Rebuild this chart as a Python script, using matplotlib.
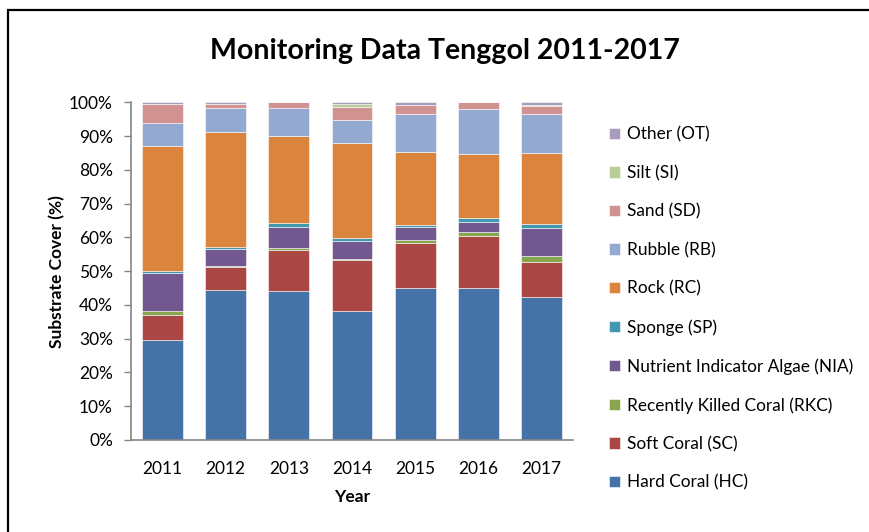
import numpy as np
import matplotlib.pyplot as plt
from matplotlib.patches import Rectangle

plt.rcParams['font.family'] = ['Lato', 'DejaVu Sans']

years = ['2011', '2012', '2013', '2014', '2015', '2016', '2017']

# substrate cover per year (%), bottom to top of the stack
hard_coral = [29.6, 44.3, 44.1, 38.4, 45.1, 44.9, 42.3]
soft_coral = [7.5, 7.0, 12.2, 15.1, 13.3, 15.4, 10.5]
recently_killed = [1.1, 0.3, 0.5, 0.2, 0.7, 1.3, 1.6]
nutrient_algae = [11.2, 5.0, 6.4, 5.2, 3.9, 3.0, 8.3]
sponge = [0.8, 0.6, 1.0, 1.0, 0.7, 1.1, 1.2]
rock = [36.8, 34.1, 25.8, 28.3, 21.6, 19.1, 21.2]
rubble = [7.1, 6.9, 8.4, 6.7, 11.1, 13.1, 11.3]
sand = [5.5, 1.3, 1.6, 4.0, 2.8, 2.1, 2.6]
silt = [0.0, 0.0, 0.0, 0.8, 0.0, 0.0, 0.3]
other = [0.5, 0.5, 0.0, 0.5, 0.8, 0.0, 0.7]

labels = ['Hard Coral (HC)', 'Soft Coral (SC)', 'Recently Killed Coral (RKC)',
          'Nutrient Indicator Algae (NIA)', 'Sponge (SP)', 'Rock (RC)',
          'Rubble (RB)', 'Sand (SD)', 'Silt (SI)', 'Other (OT)']
series = [hard_coral, soft_coral, recently_killed, nutrient_algae, sponge,
          rock, rubble, sand, silt, other]
colors = ['#4572A7', '#AA4643', '#89A54E', '#71588F', '#4198AF',
          '#DB843D', '#93A9CF', '#D19392', '#B9CD96', '#A99BBD']

data = np.array(series, dtype=float)
data = data / data.sum(axis=0) * 100.0  # 100% stacked

fig = plt.figure(figsize=(8.69, 5.32), dpi=100)
ax = fig.add_axes([131 / 869, 92 / 532, 442 / 869, 337.7 / 532])

x = np.arange(len(years))
bottom = np.zeros(len(years))
handles = []
for vals, lab, col in zip(data, labels, colors):
    b = ax.bar(x, vals, width=0.645, bottom=bottom, color=col, label=lab,
               edgecolor=(1, 1, 1, 0.55), linewidth=0.7)
    handles.append(b)
    bottom += vals

ax.set_xlim(-0.5, len(years) - 0.5)
ax.set_ylim(0, 100)
ax.set_yticks(np.arange(0, 101, 10))
ax.set_yticklabels([f'{v}%' for v in range(0, 101, 10)])
ax.set_xticks(x)
ax.set_xticklabels(years)
ax.tick_params(axis='y', length=5, width=1, color='#868686', labelsize=12.5, pad=8)
ax.tick_params(axis='x', length=0, labelsize=12.5, pad=15)
for s in ['top', 'right']:
    ax.spines[s].set_visible(False)
for s in ['left', 'bottom']:
    ax.spines[s].set_color('#868686')
    ax.spines[s].set_linewidth(1.2)

ax.set_ylabel('Substrate Cover (%)', fontsize=12.5, fontweight='bold', labelpad=3)
ax.set_xlabel('Year', fontsize=12.5, fontweight='bold', labelpad=9)

fig.text(445 / 869, 1 - 51 / 532, 'Monitoring Data Tenggol 2011-2017',
         ha='center', va='center', fontsize=20.5, fontweight='bold')

leg = fig.legend(handles[::-1], labels[::-1], loc='upper left',
                 bbox_to_anchor=(600 / 869, 1 - 118 / 532), frameon=False,
                 fontsize=12.4, labelspacing=1.30, handlelength=0.65,
                 handleheight=0.65, handletextpad=0.4, borderpad=0)

# outer chart frame
fig.add_artist(Rectangle((8 / 869, -0.2), 1.2, 1.2 - 10 / 532,
                         transform=fig.transFigure, fill=False,
                         edgecolor='black', linewidth=1.6))

fig.savefig('out.png', dpi=100)
